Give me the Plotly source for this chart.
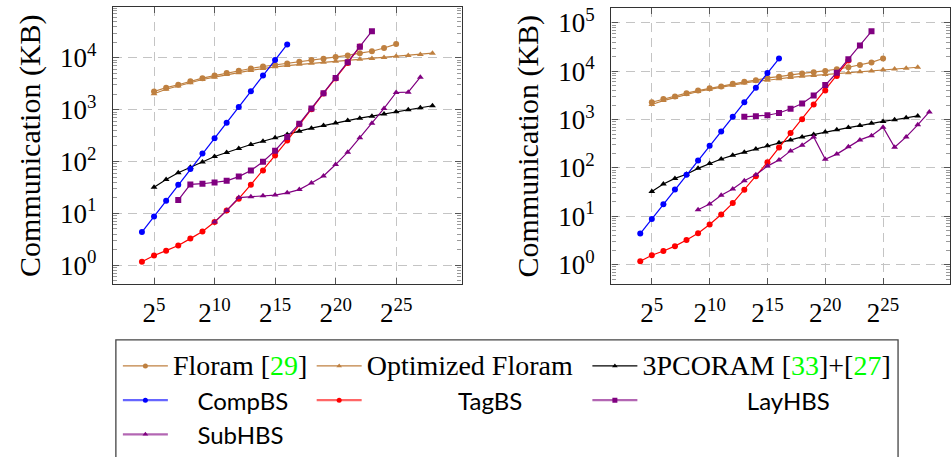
import plotly.graph_objects as go

W, H = 951, 457

# ---------------- data (x = log2 of size) ----------------
floram_x = list(range(5, 26))
floram_L = [2234, 2655, 3020, 3540, 4036, 4530, 5080, 5620, 6210, 6780, 7250, 7710,
            8410, 9040, 9570, 10300, 11070, 12250, 13340, 15420, 18320]
floram_R = [2280, 2660, 3010, 3520, 3970, 4430, 4850, 5500, 6030, 6520, 7260, 7710,
            8470, 8990, 9570, 10160, 10990, 12080, 13460, 15210, 18320]

optf_x = list(range(5, 29))
optf_L = [2020, 2470, 2850, 3300, 3810, 4220, 4730, 5150, 5700, 6210, 6680, 7080,
          7500, 7830, 8170, 8530, 8910, 9310, 9710, 10140, 10740, 11070, 11560, 12250]
optf_R = [2050, 2470, 2850, 3300, 3810, 4220, 4730, 5150, 5700, 6210, 6500, 7000,
          7450, 7830, 8170, 8530, 8910, 9310, 9710, 10140, 10740, 11070, 11560, 12080]

pc_x = list(range(5, 29))
pc_L = [31.8, 45.0, 60.8, 77.6, 97.9, 125, 149, 179, 213, 246, 288, 333, 385, 439,
        492, 552, 619, 685, 747, 826, 914, 996, 1086, 1186]
pc_R = [32.7, 46.7, 60.7, 74.1, 97.9, 123, 153, 182, 212, 247, 288, 331, 380, 438,
        494, 551, 614, 684, 750, 836, 916, 991, 1086, 1191]

comp_x = list(range(4, 17))
comp_L = [4.35, 8.7, 17.6, 35.7, 71.3, 142, 280, 560, 1119, 2265, 4530, 9040, 18060]
comp_R = [4.4, 8.8, 17.7, 35.9, 71.9, 142, 288, 569, 1138, 2280, 4570, 9140, 18320]

tag_x = list(range(4, 23))
tag_L = [1.17, 1.54, 1.91, 2.41, 3.26, 4.48, 6.8, 11.3, 19.2, 35.7, 67.3, 131, 253,
         521, 1020, 2050, 3970, 7960, 16400]
tag_R = [1.17, 1.56, 1.91, 2.41, 3.23, 4.47, 6.78, 10.9, 18.7, 35.3, 67.6, 131, 263,
         526, 1021, 2046, 3972, 7962, 16600]

lay_x_L = list(range(7, 24))
lay_L = [18.1, 36.2, 37.3, 39.5, 42.4, 51.2, 67.3, 99.3, 162, 297, 536, 1055, 2080,
         4090, 8170, 16330, 32600]
lay_x_R = list(range(13, 25))
lay_R = [1138, 1175, 1230, 1370, 1675, 2145, 3150, 5160, 9290, 17740, 33960, 66950]

sub_x_L = list(range(10, 28))
sub_L = [6.8, 11.3, 20.2, 20.9, 21.9, 22.5, 24.9, 28.7, 38.4, 52.7, 87.3, 151, 288,
         544, 1055, 2140, 2170, 4210]
sub_x_R = list(range(9, 30))
sub_R = [13.6, 17.9, 27.2, 36.5, 54.5, 71.9, 109, 146, 225, 293, 437, 151, 193, 275,
         380, 465, 697, 268, 438, 777, 1442]

x_ticks = [5, 10, 15, 20, 25]
x_ticktext = ["2<sup>%d</sup>" % v for v in x_ticks]
y_ticks_L = [1, 10, 100, 1000, 10000]
y_ticks_R = [1, 10, 100, 1000, 10000, 100000]

BROWN = "#BF8040"
VIOLET = "#800080"
SERIF = "Liberation Serif"
SANS = "Lato"
GREEN = "#00FF00"
NB = "\u00a0"

def serif_name(s):
    return '<span style="font-family:%s;font-size:28px">%s</span>' % (SERIF, s)

names = {
    "floram": serif_name('Floram [<span style="color:%s">29</span>]' % GREEN),
    "optf": serif_name("Optimized Floram"),
    "pc": serif_name('3PCORAM [<span style="color:%s">33</span>]+[<span style="color:%s">27</span>]' % (GREEN, GREEN)),
    "comp": NB * 4 + "CompBS",
    "tag": NB * 15 + "TagBS",
    "lay": NB * 17 + "LayHBS",
    "sub": NB * 4 + "SubHBS",
}

series = [
    # key, xL, yL, xR, yR, color, symbol, legend, legend line colour, legend line width
    ("floram", floram_x, floram_L, floram_x, floram_R, BROWN, "circle", "legend", BROWN, 1.2),
    ("optf", optf_x, optf_L, optf_x, optf_R, BROWN, "triangle-up", "legend2", BROWN, 1.2),
    ("pc", pc_x, pc_L, pc_x, pc_R, "black", "triangle-up", "legend3", "black", 1.2),
    ("comp", comp_x, comp_L, comp_x, comp_R, "#0000FF", "circle", "legend", "rgba(0,0,255,0.6)", 2.2),
    ("tag", tag_x, tag_L, tag_x, tag_R, "#FF0000", "circle", "legend2", "rgba(255,0,0,0.6)", 2.2),
    ("lay", lay_x_L, lay_L, lay_x_R, lay_R, VIOLET, "square", "legend3", "rgba(128,0,128,0.6)", 2.2),
    ("sub", sub_x_L, sub_L, sub_x_R, sub_R, VIOLET, "triangle-up", "legend", "rgba(128,0,128,0.6)", 2.2),
]

fig = go.Figure()
for key, xl, yl, xr, yr, col, sym, lg, lcol, lw in series:
    for side, xs, ys in (("L", xl, yl), ("R", xr, yr)):
        fig.add_trace(go.Scatter(
            x=xs, y=ys, mode="lines+markers", name=names[key],
            line=dict(color=col, width=1.2),
            marker=dict(color=col, symbol=sym, size=6),
            xaxis="x" if side == "L" else "x2",
            yaxis="y" if side == "L" else "y2",
            showlegend=False,
        ))
    # legend entry (no data drawn)
    fig.add_trace(go.Scatter(
        x=[None], y=[None], mode="lines+markers", name=names[key],
        line=dict(color=lcol, width=lw),
        marker=dict(color=col, symbol=sym, size=5),
        xaxis="x", yaxis="y", legend=lg, showlegend=True,
    ))

tickfont = dict(family=SERIF, size=27, color="black")
common_x = dict(
    tickvals=x_ticks, ticktext=x_ticktext, tickfont=tickfont,
    ticks="inside", ticklen=6, tickcolor="#555", showline=True, mirror="ticks",
    linecolor="#333", linewidth=1.3, showgrid=True, gridcolor="#C4C4C4",
    gridwidth=1.2, griddash="9px,6px", zeroline=False, ticklabelstandoff=4,
)
common_y = dict(
    type="log", tickfont=tickfont, ticks="inside", ticklen=6, tickcolor="#555",
    showline=True, mirror="ticks", linecolor="#333", linewidth=1.3, showgrid=True,
    gridcolor="#C4C4C4", gridwidth=1.2, griddash="9px,6px", zeroline=False,
    minor=dict(ticks="inside", ticklen=4, dtick="D1", tickcolor="#999", showgrid=False),
    title=dict(text="Communication (KB)", font=dict(family=SERIF, size=30, color="black"),
               standoff=10),
    ticklabelstandoff=10,
)

yd = [1 - 288 / H, 1 - 3 / H]
fig.update_layout(
    width=W, height=H, margin=dict(l=0, r=0, t=0, b=0),
    paper_bgcolor="white", plot_bgcolor="white",
    xaxis=dict(domain=[113 / W, 462 / W], range=[1.6, 30.4], anchor="y", **common_x),
    yaxis=dict(domain=yd, range=[-0.37, 4.98], anchor="x",
               tickvals=y_ticks_L, ticktext=["10<sup>%d</sup>" % i for i in range(5)],
               **common_y),
    xaxis2=dict(domain=[612 / W, 1.0], range=[1.5, 30.79], anchor="y2", **common_x),
    yaxis2=dict(domain=[1 - 288 / H, 1 - 4 / H], range=[-0.41, 5.31], anchor="x2",
                tickvals=y_ticks_R, ticktext=["10<sup>%d</sup>" % i for i in range(6)],
                **common_y),
    showlegend=True,
)

leg_common = dict(orientation="v", yanchor="top", xanchor="left", y=1 - 349 / H,
                  font=dict(family=SANS, size=24, color="black"), itemwidth=45,
                  bgcolor="rgba(0,0,0,0)", borderwidth=0, tracegroupgap=0,
                  itemclick=False)
fig.update_layout(
    legend=dict(x=118 / W, **leg_common),
    legend2=dict(x=312 / W, **leg_common),
    legend3=dict(x=588 / W, **leg_common),
)

fig.add_shape(type="rect", xref="paper", yref="paper", x0=116 / W, x1=899 / W,
              y0=1 - 345 / H, y1=-0.2, line=dict(color="#444", width=1.3),
              fillcolor="rgba(0,0,0,0)", layer="above")

fig.write_html("out.html")
